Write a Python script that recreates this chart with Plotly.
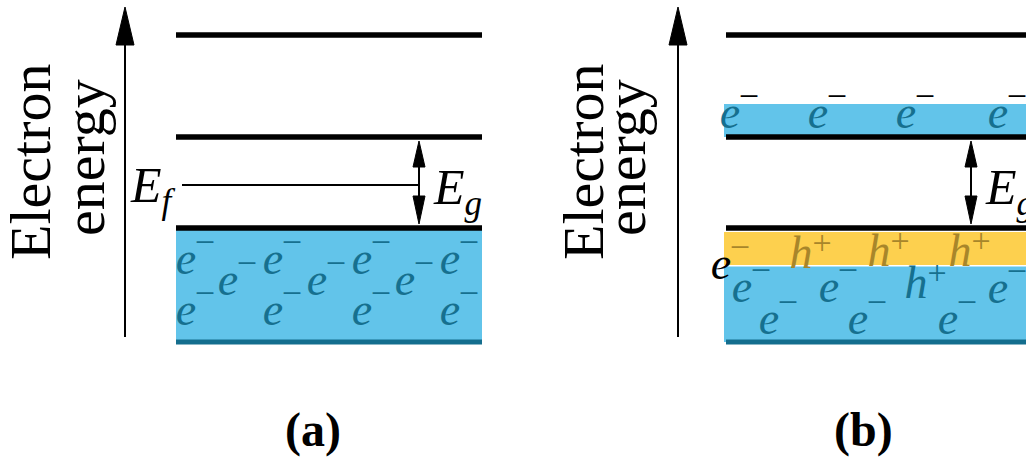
import plotly.graph_objects as go

W, H = 1026, 457

# ---------------- data (diagram units: x to the right, energy y downward on screen) ----------------
panel_labels = ["(a)", "(b)"]
panel_label_x = [313, 863]
panel_label_y = [430, 430]
panel_x0 = [176, 726]
panel_x1 = [482, 1030]
axis_arrow_x = [125, 678]
axis_arrow_bottom = [337, 337]
axis_arrow_tip = [7, 7]
axis_title_x1 = [30, 583]     # "Electron"
axis_title_x2 = [84, 625]     # "energy"
axis_title_y1 = [162, 162]
axis_title_y2 = [158, 158]

upper_band_y = 35
conduction_edge_y = 137
valence_edge_y = 228
band_bottom_y = 342
fermi_y = 185
fermi_x = [182, 418]
gap_arrow_x = [419, 971]

cb_fill_top = 104
hole_band = [232, 265]

a_e_x = [186, 228, 273, 317, 362, 405, 450, 186, 273, 362, 450]
a_e_y = [262, 283, 262, 283, 262, 283, 262, 313, 313, 313, 313]
b_cb_e_x = [730, 818, 906, 998]
b_cb_e_y = [116, 116, 116, 116]
b_vb_e_x = [742, 829, 998, 769, 858, 948]
b_vb_e_y = [290, 290, 291, 322, 322, 322]
b_free_e_x = [721]
b_free_e_y = [267]
b_h_x = [801, 879, 960]
b_h_y = [256, 254, 254]
b_h_blue_x = [916]
b_h_blue_y = [286]

BLUE = "#62c4ea"
TEAL = "#16708f"
YELLOW = "#fdd04e"
OLIVE = "#a8862a"
DARKLINE = "#146e8e"
SERIF = "Liberation Serif"
FS = 46

fig = go.Figure()
shapes = []

def rect(x0, x1, y0, y1, color):
    shapes.append(dict(type="rect", xref="x", yref="y", x0=x0, x1=x1, y0=y0, y1=y1,
                       fillcolor=color, line=dict(width=0), layer="below"))

def hline(x0, x1, y, width, color="black"):
    fig.add_trace(go.Scatter(x=[x0, x1], y=[y, y], mode="lines",
                             line=dict(color=color, width=width), hoverinfo="skip"))

def tri(x, tip, base, half):
    fig.add_trace(go.Scatter(x=[x - half, x + half, x, x - half], y=[base, base, tip, base],
                             mode="lines", fill="toself", fillcolor="black",
                             line=dict(color="black", width=1), hoverinfo="skip"))

rect(panel_x0[0], panel_x1[0], valence_edge_y + 2, band_bottom_y, BLUE)
rect(panel_x0[1] - 2, panel_x1[1], cb_fill_top, conduction_edge_y, BLUE)
rect(panel_x0[1] - 2, panel_x1[1], hole_band[0], hole_band[1], YELLOW)
rect(panel_x0[1] - 2, panel_x1[1], hole_band[1] + 1.5, band_bottom_y, BLUE)

for i in range(2):
    hline(panel_x0[i], panel_x1[i], upper_band_y, 5.5)
    hline(panel_x0[i], panel_x1[i], conduction_edge_y, 5.5)
    hline(panel_x0[i], panel_x1[i], valence_edge_y, 5.5)
    hline(panel_x0[i], panel_x1[i], band_bottom_y, 5, DARKLINE)

hline(fermi_x[0], fermi_x[1], fermi_y, 2)

for i in range(2):
    fig.add_trace(go.Scatter(x=[axis_arrow_x[i]] * 2, y=[axis_arrow_bottom[i], axis_arrow_tip[i] + 30],
                             mode="lines", line=dict(color="black", width=2), hoverinfo="skip"))
    tri(axis_arrow_x[i], axis_arrow_tip[i], axis_arrow_tip[i] + 38, 9)

for gx in gap_arrow_x:
    fig.add_trace(go.Scatter(x=[gx, gx], y=[conduction_edge_y + 10, valence_edge_y - 10],
                             mode="lines", line=dict(color="black", width=2), hoverinfo="skip"))
    tri(gx, conduction_edge_y + 4, conduction_edge_y + 30, 6)
    tri(gx, valence_edge_y - 4, valence_edge_y - 32, 6)

def glyphs(xs, ys, ch, color, size=FS, italic=True):
    fig.add_trace(go.Scatter(x=xs, y=ys, mode="text",
                             text=[("<i>%s</i>" % ch) if italic else ch] * len(xs),
                             textposition="middle center",
                             textfont=dict(family=SERIF, size=size, color=color),
                             hoverinfo="skip"))

def minus(xs, ys, color):
    glyphs([x + 19 for x in xs], [y - 17 for y in ys], "−", color, size=36, italic=False)

def plus(xs, ys, color):
    glyphs([x + 21 for x in xs], [y - 11 for y in ys], "+", color, size=34, italic=False)

glyphs(a_e_x, a_e_y, "e", TEAL)
minus(a_e_x, a_e_y, TEAL)
glyphs(b_cb_e_x, b_cb_e_y, "e", TEAL)
minus(b_cb_e_x, b_cb_e_y, "black")
glyphs(b_vb_e_x, b_vb_e_y, "e", TEAL)
minus(b_vb_e_x, b_vb_e_y, TEAL)
glyphs(b_free_e_x, b_free_e_y, "e", "black")
minus(b_free_e_x, b_free_e_y, OLIVE)
glyphs(b_h_x, b_h_y, "h", OLIVE)
plus(b_h_x, b_h_y, OLIVE)
glyphs(b_h_blue_x, b_h_blue_y, "h", TEAL)
plus(b_h_blue_x, b_h_blue_y, TEAL)

annotations = []
for i in range(2):
    annotations.append(dict(x=axis_title_x1[i], y=axis_title_y1[i], text="Electron", textangle=-90,
                            showarrow=False, font=dict(family=SERIF, size=58, color="black")))
    annotations.append(dict(x=axis_title_x2[i], y=axis_title_y2[i], text="energy", textangle=-90,
                            showarrow=False, font=dict(family=SERIF, size=58, color="black")))
    annotations.append(dict(x=panel_label_x[i], y=panel_label_y[i], text="<b>" + panel_labels[i] + "</b>",
                            showarrow=False, font=dict(family=SERIF, size=48, color="black")))
    annotations.append(dict(x=gap_arrow_x[i] + 12, y=(conduction_edge_y + valence_edge_y) / 2 + 8,
                            text="<i>E<sub>g</sub></i>", showarrow=False, xanchor="left",
                            font=dict(family=SERIF, size=50, color="black")))
annotations.append(dict(x=fermi_x[0] - 4, y=fermi_y + 4, text="<i>E<sub>f</sub></i>", showarrow=False,
                        xanchor="right", font=dict(family=SERIF, size=50, color="black")))

fig.update_layout(
    width=W, height=H, margin=dict(l=0, r=0, t=0, b=0),
    font=dict(family=SERIF),
    paper_bgcolor="white", plot_bgcolor="white", showlegend=False,
    xaxis=dict(range=[0, W], visible=False, fixedrange=True),
    yaxis=dict(range=[H, 0], visible=False, fixedrange=True),
    shapes=shapes, annotations=annotations,
)
fig.write_html("out.html", config={"displayModeBar": False},
               post_script="document.body.style.margin='0px';document.body.style.padding='0px';")
